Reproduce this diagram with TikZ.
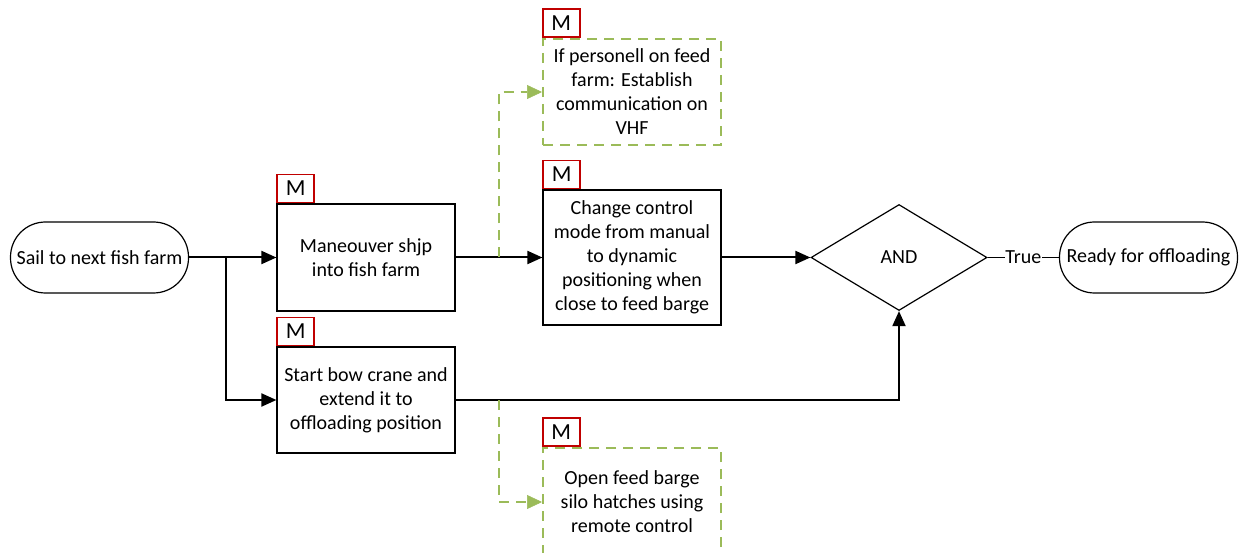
\documentclass[tikz,border=0pt]{standalone}
\usepackage{fontspec}
\setmainfont{Carlito}
\usetikzlibrary{arrows.meta,shapes.geometric}
\definecolor{optgreen}{HTML}{9BBB59}
\definecolor{tagred}{HTML}{C00000}
\tikzset{
  lbl/.style={font=\fontsize{20}{24}\selectfont},
  terminal/.style={lbl, draw, line width=1.2pt, rounded corners=35pt,
    minimum width=178pt, minimum height=71pt, inner sep=0pt, align=center},
  task/.style={lbl, draw, line width=1.2pt, minimum width=178pt,
    minimum height=107pt, inner sep=0pt, align=center},
  opttask/.style={task, draw=optgreen, line width=2pt, dash pattern=on 10pt off 7pt},
  gate/.style={lbl, draw, diamond, line width=1.2pt, minimum width=176pt,
    minimum height=106pt, inner sep=0pt},
  mtag/.style={font=\fontsize{23}{24}\selectfont, draw=tagred, line width=1.6pt,
    minimum width=37pt, minimum height=28pt, inner sep=0pt, anchor=south west},
  flow/.style={line width=2pt, -{Triangle[length=15pt,width=13pt]}},
  optflow/.style={draw=optgreen, line width=2pt, dash pattern=on 10pt off 7pt,
    -{Triangle[length=15pt,width=14pt,fill=optgreen,line width=0.5pt]}},
}
\begin{document}
\begin{tikzpicture}[x=1pt,y=-1pt]
\useasboundingbox (0,0) rectangle (1242,553);
\clip (0,0) rectangle (1242,553);

% terminals
\node[terminal] (start) at (99.5,257.5) {Sail to next fish farm};
\node[terminal] (ready) at (1148.5,257.5) {Ready for offloading};

% tasks
\node[task] (man) at (366,257.5) {Maneouver shjp\\into fish farm};
\node[task, minimum height=106pt] (crane) at (366,400) {Start bow crane and\\extend it to\\offloading position};
\node[task, minimum height=135pt] (mode) at (632,257.5) {Change control\\mode from manual\\to dynamic\\positioning when\\close to feed barge};
\node[opttask, minimum height=106pt] (vhf) at (632,92) {If personell on feed\\farm: Establish\\communication on\\VHF};
\node[opttask, minimum height=108pt] (silo) at (632,502) {Open feed barge\\silo hatches using\\remote control};

% AND gate
\node[gate] (and) at (899,257.5) {AND};

% manual tags
\node[mtag] (mman) at (man.north west) {M};
\node[mtag] (mcrane) at (crane.north west) {M};
\node[mtag] (mmode) at (mode.north west) {M};
\node[mtag] (mvhf) at (vhf.north west) {M};
\node[mtag] (msilo) at (silo.north west) {M};

% junctions
\coordinate (split) at (226,257.5);
\coordinate (jvhf) at (499,257.5);
\coordinate (jsilo) at (499,400);

% main flow
\draw[flow] (start) -- (man);
\draw[flow] (split) |- (crane);
\draw[flow] (man) -- (mode);
\draw[flow] (mode) -- (and);
\draw[flow] (crane) -| (and);
\draw[line width=1.5pt] (and) -- node[lbl, fill=white, inner sep=0.5pt] (true) {True} (ready);

% optional branches
\draw[optflow] (jvhf) |- (vhf);
\draw[optflow] (jsilo) |- (silo);
\end{tikzpicture}
\end{document}
